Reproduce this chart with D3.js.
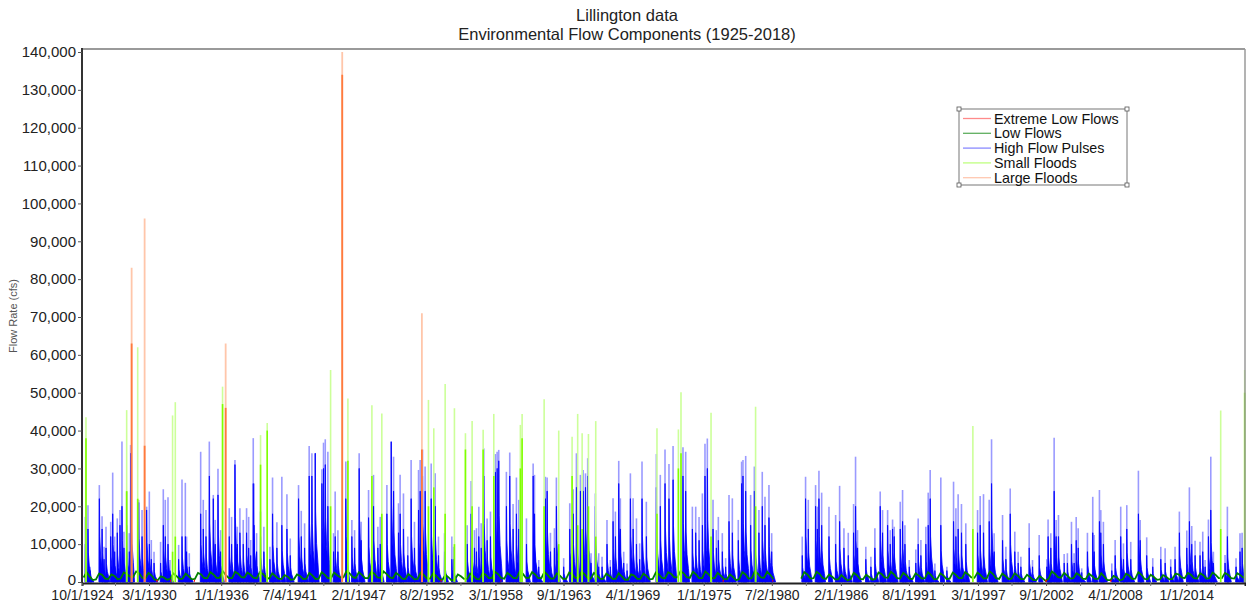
<!DOCTYPE html>
<html>
<head>
<meta charset="utf-8">
<title>Lillington data</title>
<script src="https://d3js.org/d3.v7.min.js"></script>
<style>
body { margin: 0; background: #fff; }
svg { display: block; font-family: "Liberation Sans", Arial, sans-serif; }
</style>
</head>
<body>
<svg id="chart" width="1246" height="604"></svg>
<script>
// flow values are in thousands of cfs, dates are decimal years

var axisDates = ["1924-10-01", "1930-03-01", "1936-01-01", "1941-07-04", "1947-02-01", "1952-08-02",
    "1958-03-01", "1963-09-01", "1969-04-01", "1975-01-01", "1980-07-02", "1986-02-01", "1991-08-01",
    "1997-03-01", "2002-09-01", "2008-04-01", "2014-01-01"];
var yTicks = [0, 10, 20, 30, 40, 50, 60, 70, 80, 90, 100, 110, 120, 130, 140];
var seriesNames = ["Extreme Low Flows", "Low Flows", "High Flow Pulses", "Small Floods", "Large Floods"];

// [date, peak, sustained part]
var largeFloods = [
    [1928.76, 83, 63], [1929.81, 96, 36], [1936.36, 63, 46], [1945.78, 140, 134], [1952.22, 71, 35]
];

var smallFloods = [
    [1925.07, 43.5, 38], [1928.36, 45.4, 24], [1929.25, 62, 22], [1932.07, 44, 8], [1932.29, 47.5, 12],
    [1936.11, 51.6, 47], [1939.18, 38.8, 31], [1939.72, 42, 40], [1944.84, 56, 20], [1946.24, 48.5, 32],
    [1948.18, 46.7, 28], [1948.98, 44.5, 18], [1952.75, 48.1, 20], [1953.18, 40.6, 25], [1954.10, 52.3, 18],
    [1954.85, 45.9, 10], [1955.74, 39.3, 35], [1956.28, 42.5, 20], [1957.17, 40.2, 35], [1958.03, 44.4, 28],
    [1960.18, 41.5, 30], [1960.32, 44.4, 38], [1962.10, 48.3, 20], [1963.28, 40, 10], [1964.36, 38.4, 28],
    [1964.81, 44.4, 15], [1965.17, 39.3, 14], [1965.68, 39.1, 20], [1966.27, 42.5, 12], [1971.22, 40.6, 18],
    [1972.95, 40.3, 30], [1973.16, 50.1, 34], [1975.59, 44.7, 12], [1979.19, 46.3, 20], [1996.75, 41.2, 14],
    [2016.78, 45.3, 14], [2018.72, 56, 50]
];

var highPulses = [
    [1925.02, 17.2, 10], [1925.23, 20.3, 14], [1925.40, 4.0, 3], [1926.15, 25.6, 22], [1926.37, 17.4, 14],
    [1926.53, 9.3, 6], [1926.69, 14.6, 9], [1927.07, 15.9, 12], [1927.23, 28.9, 18], [1927.39, 12.0, 8],
    [1927.60, 16.8, 13], [1927.82, 19.0, 15], [1927.98, 37.1, 20], [1928.14, 13.3, 9], [1928.36, 23.9, 15],
    [1928.57, 12.9, 8], [1928.68, 36.2, 34], [1929.33, 21.7, 21], [1929.60, 19.0, 12], [1929.97, 19.9, 19],
    [1930.19, 23.9, 10], [1930.35, 11.1, 6], [1930.57, 8.0, 5], [1931.10, 10.6, 5], [1931.32, 24.5, 15],
    [1931.48, 21.7, 12], [1931.70, 22.4, 10], [1931.86, 5.8, 3], [1932.56, 9.8, 6], [1932.83, 27.1, 12],
    [1933.10, 26.2, 12], [1933.20, 12.0, 8], [1933.42, 7.6, 4], [1934.34, 34.4, 18], [1934.55, 21.7, 14],
    [1934.77, 19.0, 12], [1935.04, 37.1, 28], [1935.36, 23.0, 22], [1935.52, 16.4, 10], [1935.74, 29.9, 23],
    [1935.95, 13.7, 8], [1936.65, 19.5, 12], [1936.84, 17.2, 10], [1937.11, 32.2, 31], [1937.30, 14.6, 10],
    [1937.51, 19.5, 13], [1937.78, 16.4, 10], [1938.05, 19.5, 13], [1938.22, 17.2, 9], [1938.38, 11.1, 7],
    [1938.59, 38.0, 26], [1938.65, 26.0, 15], [1938.86, 12.9, 8], [1939.18, 18.6, 12], [1939.45, 14.6, 8],
    [1939.94, 9.3, 6], [1940.15, 27.6, 18], [1940.50, 15.8, 9], [1940.90, 27.8, 15], [1941.31, 23.2, 14],
    [1941.58, 11.5, 7], [1942.25, 25.6, 22], [1942.47, 18.8, 12], [1942.74, 15.5, 9], [1943.11, 35.9, 28],
    [1943.33, 34.0, 28], [1943.60, 34.0, 34], [1944.14, 29.8, 26], [1944.27, 36.8, 30], [1944.41, 37.7, 31],
    [1944.62, 34.4, 20], [1945.08, 12.9, 8], [1945.21, 23.9, 12], [1945.43, 13.7, 8], [1946.07, 31.8, 22],
    [1946.56, 16.4, 12], [1946.78, 13.7, 9], [1947.15, 34.0, 30], [1947.31, 15.9, 11], [1947.91, 24.3, 17],
    [1948.31, 28.3, 20], [1948.66, 14.6, 9], [1948.85, 17.2, 10], [1949.39, 25.6, 18], [1949.74, 37.2, 37],
    [1949.93, 33.1, 24], [1950.33, 20.8, 13], [1950.46, 28.3, 18], [1950.73, 23.4, 14], [1951.08, 12.0, 7],
    [1951.35, 32.2, 22], [1951.62, 15.9, 9], [1951.95, 29.6, 19], [1952.08, 32.2, 24], [1952.27, 35.0, 28],
    [1952.48, 30.5, 24], [1952.97, 31.3, 22], [1953.29, 28.7, 20], [1953.56, 12.0, 7], [1954.05, 12.9, 8],
    [1954.64, 12.0, 6], [1954.78, 9.3, 6], [1955.88, 15.0, 10], [1956.20, 26.7, 18], [1956.47, 13.7, 9],
    [1956.63, 14.2, 8], [1956.82, 19.9, 12], [1957.01, 15.5, 9], [1957.22, 35.3, 28], [1957.49, 16.8, 11],
    [1957.76, 18.6, 12], [1958.16, 33.8, 29], [1958.30, 34.4, 30], [1958.43, 34.9, 32], [1959.05, 29.1, 20],
    [1959.32, 34.2, 28], [1959.59, 20.6, 14], [1959.86, 27.6, 18], [1960.05, 21.7, 14], [1960.67, 16.8, 10],
    [1961.21, 31.3, 28], [1961.32, 28.3, 18], [1961.66, 5.8, 4], [1962.20, 27.8, 22], [1962.34, 27.6, 24],
    [1962.61, 13.0, 8], [1962.93, 14.2, 9], [1963.09, 27.6, 20], [1963.68, 6.3, 4], [1964.17, 20.8, 14],
    [1964.44, 24.5, 18], [1964.71, 34.0, 25], [1965.03, 28.3, 24], [1965.25, 29.6, 24], [1965.44, 28.7, 25],
    [1965.62, 32.7, 28], [1965.89, 7.6, 5], [1966.24, 23.4, 20], [1966.51, 7.6, 4], [1966.78, 6.7, 4],
    [1967.18, 16.4, 10], [1967.45, 5.8, 4], [1967.67, 22.1, 16], [1967.86, 18.6, 12], [1968.13, 32.0, 26],
    [1968.26, 22.1, 14], [1968.53, 8.0, 5], [1968.80, 4.9, 3], [1969.07, 28.7, 22], [1969.29, 22.1, 14],
    [1969.56, 16.8, 10], [1969.82, 10.2, 6], [1970.01, 31.8, 22], [1970.36, 21.2, 12], [1971.17, 33.8, 25],
    [1971.49, 28.3, 20], [1971.87, 35.0, 26], [1972.19, 31.2, 22], [1972.52, 35.9, 27], [1973.32, 35.6, 28],
    [1973.54, 34.4, 24], [1974.08, 19.9, 14], [1974.35, 19.9, 13], [1974.62, 17.2, 11], [1974.89, 23.4, 15],
    [1975.10, 36.5, 28], [1975.29, 37.9, 30], [1975.75, 21.7, 14], [1976.02, 13.7, 9], [1976.18, 17.2, 11],
    [1976.50, 12.9, 8], [1976.77, 6.3, 4], [1977.04, 23.0, 16], [1977.31, 22.1, 13], [1977.79, 16.4, 11],
    [1978.06, 31.8, 26], [1978.17, 32.2, 28], [1978.39, 33.3, 24], [1978.79, 23.0, 15], [1979.09, 30.5, 24],
    [1979.46, 19.0, 13], [1979.73, 29.1, 20], [1979.95, 22.5, 15], [1980.27, 25.6, 17], [1980.49, 12.9, 8],
    [1982.96, 12.0, 7], [1983.23, 27.8, 22], [1983.45, 21.7, 14], [1984.04, 25.6, 20], [1984.18, 19.9, 14],
    [1984.31, 29.4, 22], [1984.53, 23.6, 15], [1985.12, 19.9, 12], [1985.66, 17.7, 10], [1985.98, 25.4, 16],
    [1986.33, 14.2, 9], [1986.68, 13.0, 7], [1987.11, 20.6, 13], [1987.27, 33.1, 20], [1987.43, 13.7, 9],
    [1988.10, 9.3, 6], [1988.51, 6.7, 4], [1988.83, 14.2, 9], [1989.26, 23.9, 20], [1989.45, 19.0, 13],
    [1989.86, 19.0, 15], [1990.07, 13.7, 10], [1990.26, 16.5, 14], [1990.39, 14.6, 12], [1990.88, 21.2, 14],
    [1991.07, 24.3, 16], [1991.26, 15.0, 10], [1991.61, 5.8, 4], [1992.14, 8.6, 5], [1992.33, 16.8, 10],
    [1992.55, 11.1, 7], [1992.95, 14.6, 10], [1993.14, 23.6, 15], [1993.30, 29.6, 22], [1993.68, 4.9, 3],
    [1994.16, 27.6, 15], [1994.65, 4.0, 3], [1995.19, 26.5, 16], [1995.38, 19.5, 12], [1995.56, 23.2, 14],
    [1995.83, 20.6, 13], [1996.18, 15.5, 10], [1997.13, 19.0, 13], [1997.34, 22.7, 15], [1997.61, 23.2, 13],
    [1998.07, 21.7, 16], [1998.26, 37.7, 26], [1998.47, 12.9, 8], [1999.15, 17.7, 11], [1999.42, 9.3, 6],
    [1999.77, 24.7, 18], [2000.14, 13.3, 8], [2000.41, 8.0, 5], [2000.63, 6.7, 4], [2001.30, 15.5, 9],
    [2001.57, 5.8, 4], [2002.11, 12.4, 7], [2002.73, 6.0, 4], [2002.83, 16.5, 12], [2003.05, 12.9, 9],
    [2003.32, 38.1, 24], [2003.48, 16.4, 12], [2003.67, 17.7, 12], [2004.13, 7.4, 5], [2004.39, 7.6, 5],
    [2004.72, 15.9, 10], [2004.93, 7.6, 5], [2005.10, 17.2, 11], [2005.26, 14.2, 9], [2005.55, 3.6, 2.5],
    [2006.01, 13.0, 8], [2006.44, 22.5, 13], [2006.55, 12.4, 8], [2006.98, 24.3, 16], [2007.09, 19.0, 13],
    [2007.30, 15.9, 10], [2007.98, 4.9, 3], [2008.25, 11.1, 7], [2008.70, 19.9, 12], [2008.92, 10.2, 6],
    [2009.19, 20.3, 14], [2009.51, 10.6, 6], [2010.13, 29.4, 18], [2010.27, 16.4, 11], [2010.80, 11.8, 7],
    [2011.29, 6.3, 4], [2011.94, 9.3, 6], [2012.29, 8.9, 5], [2012.74, 6.0, 4], [2013.09, 9.3, 6],
    [2013.44, 18.6, 13], [2014.04, 13.6, 9], [2014.25, 25.0, 16], [2014.44, 14.8, 10], [2014.71, 10.9, 7],
    [2015.11, 10.6, 7], [2015.33, 13.3, 8], [2015.52, 5.8, 4], [2015.79, 16.5, 12], [2015.98, 33.1, 19],
    [2016.19, 8.0, 5], [2017.13, 7.1, 5], [2017.32, 19.9, 12], [2018.02, 6.3, 4], [2018.34, 12.9, 8],
    [2018.51, 13.0, 9]
];

// water year: [autumn, winter, spring, summer] base flows
var lowFlows = [
    [1925, 1.2, 2.6, 1.4, 0.5], [1926, 0.7, 2.2, 1.9, 0.9], [1927, 0.8, 2.0, 1.6, 0.7], [1928, 0.9, 2.5, 2.1, 1.4],
    [1929, 1.3, 2.8, 2.3, 1.1], [1930, 1.0, 2.4, 1.7, 0.6], [1931, 0.5, 1.5, 1.2, 0.6], [1932, 0.8, 2.3, 1.6, 0.8],
    [1933, 0.9, 2.2, 1.5, 0.7], [1934, 0.8, 2.4, 2.0, 1.0], [1935, 1.0, 2.6, 2.0, 1.1], [1936, 1.1, 2.9, 1.8, 1.0],
    [1937, 1.0, 2.7, 2.2, 1.3], [1938, 1.2, 2.5, 1.9, 1.1], [1939, 1.0, 2.6, 2.1, 1.2], [1940, 0.9, 2.3, 1.6, 0.9],
    [1941, 0.8, 1.8, 1.4, 0.6], [1942, 0.7, 2.0, 1.6, 0.8], [1943, 0.9, 2.4, 1.7, 0.8], [1944, 0.9, 2.6, 1.9, 1.0],
    [1945, 1.0, 2.5, 1.8, 1.2], [1946, 1.2, 2.9, 2.3, 1.3], [1947, 1.1, 2.6, 1.9, 1.0], [1948, 1.0, 2.7, 2.2, 1.2],
    [1949, 1.1, 2.8, 2.1, 1.2], [1950, 1.0, 2.4, 1.8, 0.9], [1951, 0.8, 2.1, 1.5, 0.7], [1952, 0.8, 2.5, 1.9, 0.9],
    [1953, 0.9, 2.3, 1.6, 0.7], [1954, 0.6, 1.9, 1.2, 0.4], [1955, 0.6, 2.0, 1.5, 0.8], [1956, 0.8, 2.2, 1.6, 0.8],
    [1957, 0.7, 2.3, 1.9, 1.0], [1958, 1.0, 2.7, 2.1, 1.1], [1959, 0.9, 2.4, 1.8, 1.0], [1960, 1.0, 2.8, 2.2, 1.1],
    [1961, 1.1, 2.6, 2.0, 1.0], [1962, 1.0, 2.7, 1.9, 0.9], [1963, 0.9, 2.3, 1.7, 0.8], [1964, 0.8, 2.5, 2.0, 1.1],
    [1965, 1.1, 2.7, 2.0, 1.0], [1966, 0.9, 2.4, 1.7, 0.8], [1967, 0.8, 2.2, 1.6, 0.8], [1968, 0.8, 2.3, 1.5, 0.6],
    [1969, 0.6, 2.0, 1.7, 0.8], [1970, 0.8, 2.2, 1.6, 0.7], [1971, 0.8, 2.5, 2.0, 1.1], [1972, 1.0, 2.6, 2.1, 1.2],
    [1973, 1.2, 2.9, 2.3, 1.3], [1974, 1.1, 2.7, 2.0, 1.0], [1975, 1.0, 2.8, 2.1, 1.1], [1976, 1.0, 2.4, 1.7, 0.8],
    [1977, 0.7, 2.0, 1.3, 0.5], [1978, 0.8, 2.6, 2.0, 0.9], [1979, 1.0, 2.8, 2.2, 1.2], [1980, 1.1, 2.7, 1.9, 0.8],
    [1983, 0.9, 2.6, 2.0, 0.9], [1984, 1.0, 2.7, 2.1, 1.0], [1985, 0.8, 2.0, 1.4, 0.7], [1986, 0.7, 1.8, 1.1, 0.4],
    [1987, 0.8, 2.4, 1.8, 0.8], [1988, 0.7, 1.9, 1.3, 0.6], [1989, 0.8, 2.5, 2.1, 1.2], [1990, 1.1, 2.7, 2.0, 1.0],
    [1991, 0.9, 2.4, 1.8, 0.9], [1992, 0.8, 2.3, 1.7, 0.9], [1993, 1.0, 2.6, 1.8, 0.7], [1994, 0.8, 2.3, 1.7, 0.8],
    [1995, 0.9, 2.5, 1.9, 1.0], [1996, 1.0, 2.6, 2.0, 1.2], [1997, 1.1, 2.5, 1.8, 0.9], [1998, 1.0, 2.8, 2.1, 1.0],
    [1999, 0.8, 2.2, 1.6, 0.8], [2000, 0.9, 2.3, 1.7, 0.8], [2001, 0.7, 1.9, 1.3, 0.5], [2002, 0.5, 1.6, 1.0, 0.3],
    [2003, 0.9, 2.8, 2.2, 1.3], [2004, 1.1, 2.4, 1.7, 0.9], [2005, 1.0, 2.3, 1.8, 0.9], [2006, 0.8, 2.2, 1.6, 0.8],
    [2007, 0.8, 2.3, 1.4, 0.5], [2008, 0.5, 1.6, 1.2, 0.4], [2009, 0.7, 2.2, 1.7, 0.8], [2010, 0.9, 2.6, 1.9, 0.8],
    [2011, 0.7, 1.9, 1.3, 0.6], [2012, 0.7, 1.8, 1.4, 0.7], [2013, 0.8, 2.2, 2.0, 1.2], [2014, 1.0, 2.4, 1.9, 1.0],
    [2015, 0.9, 2.3, 1.8, 0.9], [2016, 1.0, 2.5, 1.9, 1.0], [2017, 1.0, 2.4, 1.9, 1.0], [2018, 0.9, 2.3, 1.8, 1.1]
];

// [start, end, flow]
var extremeLows = [
    [1930.75, 1930.86, 0.3], [1931.87, 1931.95, 0.3], [1933.79, 1933.88, 0.3], [1953.72, 1953.82, 0.3],
    [1958.58, 1958.64, 0.3], [1976.52, 1976.62, 0.3], [1980.54, 1980.62, 0.3], [2002.60, 2002.73, 0.3],
    [2007.85, 2007.96, 0.3]
];

var colors = {
    extremeLow: "#ff0000",
    low: "#008000",
    pulseLight: "#9a9aff",
    pulse: "#0000ff",
    smallLight: "#ccff99",
    small: "#80ff00",
    largeLight: "#ffc6aa",
    large: "#ff7a3d"
};
var legendColors = ["#ff8a8a", "#5fae5f", "#8a8aff", "#bfff80", "#ffc8b0"];
var DAY = 1 / 365.25;

function toDate(yr) {
    var y = Math.floor(yr);
    var a = new Date(y, 0, 1), b = new Date(y + 1, 0, 1);
    return new Date(+a + (yr - y) * (b - a));
}

var svg = d3.select("#chart");
var x = d3.scaleTime().domain([new Date(1924, 9, 1), new Date(2018, 8, 30)]).range([82, 1245]);
var y = d3.scaleLinear().domain([0, 140]).range([582, 52]);

var plot = svg.append("g");

function spikes(cls, data, color, width, idx) {
    plot.append("g").attr("class", cls).selectAll("line").data(data).enter().append("line")
        .attr("x1", function (d) { return x(toDate(d[0])); })
        .attr("x2", function (d) { return x(toDate(d[0])); })
        .attr("y1", y(0))
        .attr("y2", function (d) { return y(d[idx]); })
        .attr("stroke", color)
        .attr("stroke-width", width);
}

// a pulse rises quickly then recedes over the following weeks
var pulseShape = d3.line().x(function (p) { return x(toDate(p[0])); }).y(function (p) { return y(p[1]); });
function pulseBody(d) {
    var t = d[0], b = d[2];
    return pulseShape([[t - 10 * DAY, 0], [t - 2 * DAY, b], [t + 3 * DAY, b], [t + 12 * DAY, b * 0.55],
        [t + 40 * DAY, b * 0.3], [t + 80 * DAY, b * 0.15], [t + 115 * DAY, 0]]) + "Z";
}

spikes("pulse-peak", highPulses, colors.pulseLight, 1.6, 1);
plot.append("g").attr("class", "pulse-body").selectAll("path").data(highPulses).enter().append("path")
    .attr("d", pulseBody).attr("fill", colors.pulse).attr("stroke", colors.pulse).attr("stroke-width", 0.8);

// low flows, broken where the record is missing
var lowPts = [];
lowFlows.forEach(function (d) {
    var wy = d[0];
    lowPts.push({ wy: wy, t: wy - 1 + 10.5 / 12, v: d[1] });
    lowPts.push({ wy: wy, t: wy + 1.5 / 12, v: d[2] });
    lowPts.push({ wy: wy, t: wy + 4.5 / 12, v: d[3] });
    lowPts.push({ wy: wy, t: wy + 7.5 / 12, v: d[4] });
});
var lowSegs = [];
lowPts.forEach(function (p, i) {
    if (i === 0 || p.wy - lowPts[i - 1].wy > 1) lowSegs.push([]);
    lowSegs[lowSegs.length - 1].push(p);
});
var lowLine = d3.line().x(function (d) { return x(toDate(d.t)); }).y(function (d) { return y(d.v); });
plot.append("g").selectAll("path").data(lowSegs).enter().append("path")
    .attr("d", lowLine).attr("fill", "none").attr("stroke", colors.low).attr("stroke-width", 1.8);

spikes("small-peak", smallFloods, colors.smallLight, 1.6, 1);
spikes("small-body", smallFloods, colors.small, 1.6, 2);
spikes("large-peak", largeFloods, colors.largeLight, 1.8, 1);
spikes("large-body", largeFloods, colors.large, 1.8, 2);

plot.append("g").selectAll("line").data(extremeLows).enter().append("line")
    .attr("x1", function (d) { return x(toDate(d[0])); })
    .attr("x2", function (d) { return x(toDate(d[1])); })
    .attr("y1", function (d) { return y(d[2]); })
    .attr("y2", function (d) { return y(d[2]); })
    .attr("stroke", colors.extremeLow).attr("stroke-width", 2);

// frame
svg.append("line").attr("x1", 82).attr("x2", 1245).attr("y1", 49).attr("y2", 49).attr("stroke", "#9a9a9a").attr("stroke-width", 2);
svg.append("line").attr("x1", 1245).attr("x2", 1245).attr("y1", 49).attr("y2", 583).attr("stroke", "#9a9a9a").attr("stroke-width", 1.5);

// axes
var fmtY = function (d) { return d3.format(",")(d * 1000); };
var yAxis = svg.append("g").attr("transform", "translate(82,0)")
    .call(d3.axisLeft(y).tickValues(yTicks).tickFormat(fmtY).tickSize(4).tickPadding(2));
yAxis.select(".domain").attr("d", "M0,48V583").attr("stroke", "#333").attr("stroke-width", 2);
yAxis.selectAll(".tick line").attr("stroke", "#555");
yAxis.selectAll("text").attr("font-size", 15).attr("fill", "#222").attr("font-family", "Liberation Sans, Arial, sans-serif");
// keep the zero label clear of the first date label
yAxis.selectAll(".tick text").filter(function (d) { return d === 0; }).attr("dy", "2px");

var tickDates = axisDates.map(function (s) { return d3.timeParse("%Y-%m-%d")(s); });
var xAxis = svg.append("g").attr("transform", "translate(0,583)")
    .call(d3.axisBottom(x).tickValues(tickDates).tickFormat(d3.timeFormat("%-m/%-d/%Y")).tickSize(3).tickPadding(4));
xAxis.select(".domain").attr("stroke", "#222").attr("stroke-width", 2);
xAxis.selectAll(".tick line").attr("stroke", "#555");
xAxis.selectAll("text").attr("font-size", 14).attr("fill", "#222").attr("font-family", "Liberation Sans, Arial, sans-serif");

// minor ticks halfway between labelled ones
var minor = [];
for (var i = 0; i < tickDates.length; i++) {
    var next = i + 1 < tickDates.length ? tickDates[i + 1] : x.domain()[1];
    minor.push(new Date((+tickDates[i] + +next) / 2));
}
svg.append("g").selectAll("line").data(minor).enter().append("line")
    .attr("x1", function (d) { return x(d); }).attr("x2", function (d) { return x(d); })
    .attr("y1", 583).attr("y2", 586).attr("stroke", "#777");

// titles
svg.append("text").attr("x", 627).attr("y", 21).attr("text-anchor", "middle")
    .attr("font-size", 16.5).attr("fill", "#222").text("Lillington data");
svg.append("text").attr("x", 627).attr("y", 40).attr("text-anchor", "middle")
    .attr("font-size", 16.5).attr("fill", "#222").text("Environmental Flow Components (1925-2018)");
svg.append("text").attr("transform", "translate(17,316) rotate(-90)").attr("text-anchor", "middle")
    .attr("font-size", 11).attr("fill", "#555").text("Flow Rate (cfs)");

// legend
var lg = svg.append("g").attr("transform", "translate(959,109)");
lg.append("rect").attr("width", 168).attr("height", 76).attr("fill", "#fff").attr("stroke", "#777").attr("stroke-width", 1);
[[0, 0], [168, 0], [0, 76], [168, 76]].forEach(function (c) {
    lg.append("rect").attr("x", c[0] - 2).attr("y", c[1] - 2).attr("width", 4).attr("height", 4)
        .attr("fill", "#fff").attr("stroke", "#555").attr("stroke-width", 0.8);
});
var rows = lg.selectAll("g.row").data(seriesNames).enter().append("g")
    .attr("transform", function (d, i) { return "translate(0," + (9.5 + i * 14.8) + ")"; });
rows.append("line").attr("x1", 4).attr("x2", 32).attr("stroke", function (d, i) { return legendColors[i]; }).attr("stroke-width", 1.3);
rows.append("text").attr("x", 35).attr("y", 5).attr("font-size", 14.3).attr("fill", "#111").text(function (d) { return d; });
</script>
</body>
</html>
